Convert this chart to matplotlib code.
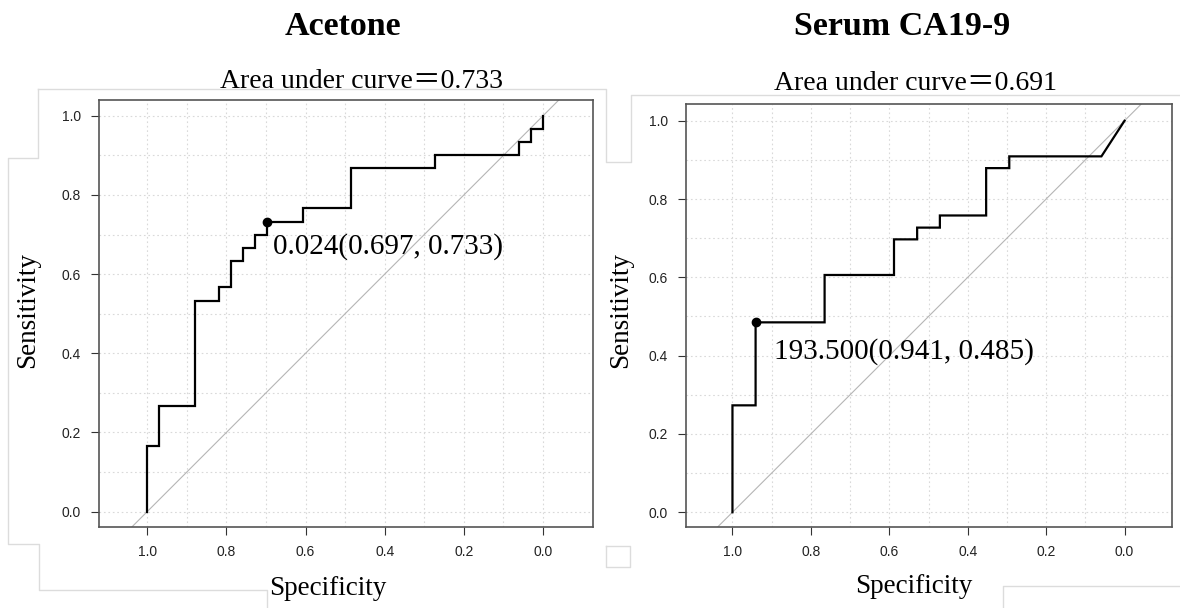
import matplotlib
matplotlib.use("Agg")
import matplotlib.pyplot as plt
import numpy as np

# ---------------- data ----------------
panel_titles = ["Acetone", "Serum CA19-9"]
auc_values = [0.733, 0.691]

acetone_spec = [1.000, 1.000, 0.970, 0.970, 0.879, 0.879, 0.818, 0.818, 0.788, 0.788,
                0.758, 0.758, 0.727, 0.727, 0.697, 0.697, 0.606, 0.606, 0.485, 0.485,
                0.273, 0.273, 0.061, 0.061, 0.030, 0.030, 0.000, 0.000]
acetone_sens = [0.000, 0.167, 0.167, 0.267, 0.267, 0.533, 0.533, 0.567, 0.567, 0.633,
                0.633, 0.667, 0.667, 0.700, 0.700, 0.733, 0.733, 0.767, 0.767, 0.867,
                0.867, 0.900, 0.900, 0.933, 0.933, 0.967, 0.967, 1.000]

ca199_spec = [1.000, 1.000, 0.941, 0.941, 0.765, 0.765, 0.588, 0.588, 0.529, 0.529,
              0.471, 0.471, 0.353, 0.353, 0.294, 0.294, 0.059, 0.000]
ca199_sens = [0.000, 0.273, 0.273, 0.485, 0.485, 0.606, 0.606, 0.697, 0.697, 0.727,
              0.727, 0.758, 0.758, 0.879, 0.879, 0.909, 0.909, 1.000]

best_threshold = [0.024, 193.5]
best_spec = [0.697, 0.941]
best_sens = [0.733, 0.485]
threshold_fmt = ["{:.3f}", "{:.3f}"]

tick_values = [1.0, 0.8, 0.6, 0.4, 0.2, 0.0]
tick_labels = ["1.0", "0.8", "0.6", "0.4", "0.2", "0.0"]
grid_values = [0.0, 0.1, 0.2, 0.3, 0.4, 0.5, 0.6, 0.7, 0.8, 0.9, 1.0]

# ---------------- layout ----------------
W, H = 1180, 608
fig = plt.figure(figsize=(W / 100, H / 100), dpi=100)
fig.patch.set_facecolor("white")

def fx(px):
    return px / W

def fy(py):
    return 1 - py / H

SERIF = ["Liberation Serif", "DejaVu Serif"]
SERIF_CJK = ["Liberation Serif", "Noto Sans CJK SC", "DejaVu Serif"]
SANS = ["Liberation Sans", "DejaVu Sans"]

# faint frame artefacts of the composite image
frame_col = "#dcdcdc"
frame_lines = [
    [(38, 89), (606, 89), (606, 162), (631, 162), (631, 95), (1180, 95)],
    [(38, 89), (38, 158), (8, 158), (8, 544), (39, 544), (39, 590), (267, 590), (267, 608)],
    [(1003, 608), (1003, 586), (1180, 586)],
    [(606, 546), (630, 546), (630, 567), (606, 567), (606, 546)],
]
for pts in frame_lines:
    xs = [fx(p[0]) for p in pts]
    ys = [fy(p[1]) for p in pts]
    fig.add_artist(plt.Line2D(xs, ys, color=frame_col, lw=1.0, transform=fig.transFigure, zorder=0))

axes_px = [
    (98.7, 100.0, 592.7, 526.7),
    (685.8, 104.3, 1171.6, 526.7),
]
xlims = [(1.1225, -0.1256), (1.119, -0.120)]
ylims = [(-0.038, 1.040), (-0.037, 1.042)]
spec_data = [acetone_spec, ca199_spec]
sens_data = [acetone_sens, ca199_sens]
text_offsets_px = [(6, -25), (18, -29)]

title_pos = [(343, 35), (902, 35)]
sub_pos = [(362, 88), (916, 90.5)]
xlab_pos = [(327.5, 595), (913.6, 593)]
ylab_pos = [(28, 310), (621, 310)]

for i in range(2):
    l, t, r, b = axes_px[i]
    ax = fig.add_axes([fx(l), fy(b), (r - l) / W, (b - t) / H])
    ax.set_xlim(*xlims[i])
    ax.set_ylim(*ylims[i])
    ax.set_facecolor("white")

    for g in grid_values:
        ax.axvline(g, color="#d9d9d9", lw=0.8, ls=(0, (1.5, 2.5)), zorder=1)
        ax.axhline(g, color="#d9d9d9", lw=0.8, ls=(0, (1.5, 2.5)), zorder=1)

    ax.axline((1, 0), (0, 1), color="#b5b5b5", lw=0.8, zorder=2)
    ax.plot(spec_data[i], sens_data[i], color="black", lw=1.6, zorder=3,
            solid_joinstyle="miter")
    ax.plot([best_spec[i]], [best_sens[i]], "o", color="black", ms=6, zorder=4)
    label = threshold_fmt[i].format(best_threshold[i]) + "({:.3f}, {:.3f})".format(best_spec[i], best_sens[i])
    ax.annotate(label, xy=(best_spec[i], best_sens[i]), xytext=text_offsets_px[i],
                textcoords="offset pixels", ha="left", va="center",
                fontsize=21, family=SERIF, color="black", zorder=5)

    ax.set_xticks(tick_values)
    ax.set_xticklabels(tick_labels)
    ax.set_yticks(tick_values)
    ax.set_yticklabels(tick_labels)
    ax.tick_params(direction="out", length=6, width=0.8, color="#333333",
                   labelsize=10, pad=7, labelcolor="#222222")
    for lab in ax.get_xticklabels() + ax.get_yticklabels():
        lab.set_family(SANS)
    for sp in ax.spines.values():
        sp.set_color("#555555")
        sp.set_linewidth(1.2)

    fig.text(fx(title_pos[i][0]), fy(title_pos[i][1]), panel_titles[i], ha="center",
             va="baseline", fontsize=24.5, fontweight="bold", family=SERIF)
    fig.text(fx(sub_pos[i][0]), fy(sub_pos[i][1]), "Area under curve\uff1d{:.3f}".format(auc_values[i]),
             ha="center", va="baseline", fontsize=20, family=SERIF_CJK)
    fig.text(fx(xlab_pos[i][0]), fy(xlab_pos[i][1]), "Specificity", ha="center",
             va="baseline", fontsize=19.5, family=SERIF)
    fig.text(fx(ylab_pos[i][0]), fy(ylab_pos[i][1]), "Sensitivity", ha="center",
             va="center", rotation=90, fontsize=19.5, family=SERIF)

fig.savefig("out.png", dpi=100, facecolor="white")
